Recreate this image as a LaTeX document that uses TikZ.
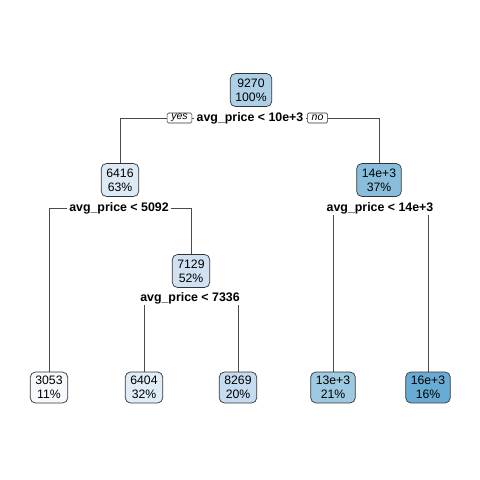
\documentclass[tikz,border=0pt]{standalone}
\usepackage{fontspec}
\setsansfont{Liberation Sans}
\usetikzlibrary{backgrounds}
\definecolor{Edge}{HTML}{333333}
\definecolor{Wire}{HTML}{4A4A4A}
\definecolor{Root}{HTML}{ADD0E6}
\definecolor{LowFit}{HTML}{DDEAF6}
\definecolor{MidFit}{HTML}{D0E2F2}
\definecolor{HighFit}{HTML}{88BEDC}
\definecolor{LeafA}{HTML}{F5F9FD}
\definecolor{LeafB}{HTML}{E0ECF8}
\definecolor{LeafC}{HTML}{C5DBEF}
\definecolor{LeafD}{HTML}{9ECAE1}
\definecolor{LeafE}{HTML}{68ACD5}

\begin{document}
\begin{tikzpicture}[x=0.025cm,y=-0.025cm,font=\sffamily,fitbox/.style={draw=Edge, line width=0.5pt, rounded corners=3.5pt, align=center, inner xsep=3.6pt, inner ysep=0pt, minimum height=0.82cm, font=\sffamily\fontsize{8.7}{10}\selectfont},leafbox/.style={fitbox, minimum height=0.77cm},splittext/.style={fill=white, inner xsep=1.5pt, inner ysep=1pt, font=\sffamily\bfseries\fontsize{8.8}{10}\selectfont},dirtag/.style={draw=Edge, fill=white, line width=0.4pt, rounded corners=1pt, inner xsep=3pt, inner ysep=0pt, minimum height=0.25cm, font=\sffamily\itshape\fontsize{7.5}{8}\selectfont},wire/.style={draw=Wire, line width=0.6pt}]
\useasboundingbox (0,0) rectangle (480,480);
\node[fitbox, fill=Root] (root) at (251,90) {9270\\100\%};
\node[fitbox, fill=LowFit] (lowprice) at (120,180) {6416\\63\%};
\node[fitbox, fill=HighFit] (highprice) at (379,180) {14e+3\\37\%};
\node[fitbox, fill=MidFit] (midprice) at (191,271) {7129\\52\%};
\node[leafbox, fill=LeafA] (leafa) at (49,387.5) {3053\\11\%};
\node[leafbox, fill=LeafB] (leafb) at (144,387.5) {6404\\32\%};
\node[leafbox, fill=LeafC] (leafc) at (238,387.5) {8269\\20\%};
\node[leafbox, fill=LeafD] (leafd) at (333,387.5) {13e+3\\21\%};
\node[leafbox, fill=LeafE] (leafe) at (428,387.5) {16e+3\\16\%};
% split labels
\node[splittext] (splitroot) at (250,118) {avg\_price < 10e+3};
\node[splittext] (splitlow) at (119,208) {avg\_price < 5092};
\node[splittext] (splithigh) at (380,208) {avg\_price < 14e+3};
\node[splittext] (splitmid) at (190,298) {avg\_price < 7336};
% branches
\begin{scope}[on background layer]
\draw[wire] (lowprice) |- (splitroot) -| (highprice);
\draw[wire] (leafa) |- (splitlow) -| (midprice);
\draw[wire] (leafb) |- (splitmid.center) -| (leafc);
\draw[wire] (leafd) |- (splithigh.center) -| (leafe);
\end{scope}
\node[dirtag] (yestag) at (179.5,118) {yes};
\node[dirtag] (notag) at (317.5,118) {no};
\end{tikzpicture}
\end{document}
